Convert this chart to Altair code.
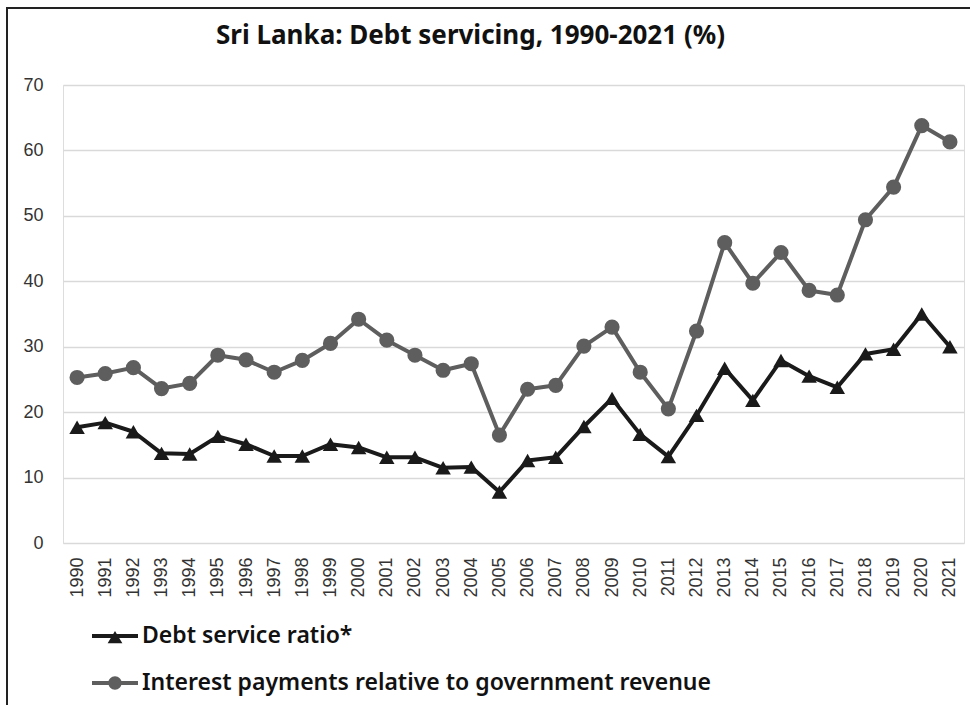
import altair as alt
import pandas as pd

years = [str(y) for y in range(1990, 2022)]

debt_service_ratio = [17.7, 18.4, 17.0, 13.7, 13.6, 16.3, 15.1, 13.3, 13.3, 15.1,
                      14.6, 13.1, 13.1, 11.5, 11.6, 7.8, 12.6, 13.1, 17.8, 22.1,
                      16.6, 13.2, 19.5, 26.7, 21.8, 27.9, 25.5, 23.8, 28.9, 29.6,
                      35.0, 30.0]

interest_to_revenue = [25.3, 25.9, 26.8, 23.6, 24.4, 28.7, 28.0, 26.1, 27.9, 30.5,
                       34.2, 31.0, 28.7, 26.4, 27.4, 16.5, 23.5, 24.1, 30.1, 33.0,
                       26.1, 20.5, 32.4, 45.9, 39.7, 44.4, 38.6, 37.9, 49.4, 54.4,
                       63.8, 61.3]

y_ticks = [0, 10, 20, 30, 40, 50, 60, 70]

S1 = "Debt service ratio*"
S2 = "Interest payments relative to government revenue"
C1 = "#1a1a1a"
C2 = "#5e5e5e"

df1 = pd.DataFrame({"year": years, "value": debt_service_ratio, "series": S1})
df2 = pd.DataFrame({"year": years, "value": interest_to_revenue, "series": S2})

FONT_LBL = "Liberation Sans"
FONT_HAND = "Noto Sans"

x_enc = alt.X("year:O", sort=years,
              scale=alt.Scale(paddingInner=0, paddingOuter=0),
              axis=alt.Axis(title=None, labelAngle=270, labelFontSize=18,
                            labelFont=FONT_LBL, labelColor="#333333",
                            labelPadding=14, ticks=False, domain=False, grid=False))
y_enc = alt.Y("value:Q", scale=alt.Scale(domain=[0, 70], nice=False),
              axis=alt.Axis(title=None, values=y_ticks, labelFontSize=18,
                            labelFont=FONT_LBL, labelColor="#333333",
                            labelPadding=20, ticks=False, domain=False,
                            grid=True, gridColor="#d9d9d9", gridWidth=1.5))

line_path = "M-1,-0.09H1V0.09H-1Z"
tri_path = line_path + "M-0.32,0.32L0,-0.22L0.32,0.32Z"
circ_path = line_path + "M-0.29,0A0.29,0.29 0 1,1 0.29,0A0.29,0.29 0 1,1 -0.29,0Z"


def series_layer(df, name, color, path, legend_y, shape, size):
    line = alt.Chart(df).mark_line(strokeWidth=4, strokeJoin="round").encode(
        x=x_enc, y=y_enc,
        color=alt.Color("series:N",
                        scale=alt.Scale(domain=[name], range=[color]),
                        legend=alt.Legend(title=None, orient="none",
                                          legendX=29, legendY=legend_y,
                                          symbolType=path, symbolSize=2116,
                                          symbolFillColor=color,
                                          symbolStrokeColor=color,
                                          symbolStrokeWidth=0,
                                          labelFontSize=23, labelFont=FONT_HAND,
                                          labelFontWeight=600,
                                          labelColor="#111111", labelOffset=4,
                                          labelLimit=800)),
    )
    pts = alt.Chart(df).mark_point(filled=True, shape=shape, size=size,
                                   opacity=1, color=color).encode(x=x_enc, y=y_enc)
    return alt.layer(line, pts)


frame_df = pd.DataFrame({"a": [0]})
frame_left = alt.Chart(frame_df).mark_rule(color="#222222", strokeWidth=2).encode(
    x=alt.value(-56), y=alt.value(-77), y2=alt.value(640))
frame_top = alt.Chart(frame_df).mark_rule(color="#222222", strokeWidth=2).encode(
    x=alt.value(-57), x2=alt.value(920), y=alt.value(-77))

chart = alt.layer(
    frame_left, frame_top,
    series_layer(df2, S2, C2, circ_path, 575, "circle", 230),
    series_layer(df1, S1, C1, tri_path, 528, "triangle-up", 240),
).resolve_scale(color="independent").properties(
    width=901, height=458,
    title=alt.TitleParams("Sri Lanka: Debt servicing, 1990-2021 (%)",
                          anchor="middle", frame="group", dx=-43, offset=-42,
                          fontSize=26, font=FONT_HAND, fontWeight="bold",
                          color="#111111"),
    autosize=alt.AutoSizeParams(type="none"),
    padding={"left": 63, "top": 85, "right": 6, "bottom": 162},
).configure_view(strokeWidth=0).configure(background="white")

chart.save("out.html", embed_options={"renderer": "svg", "actions": False})
